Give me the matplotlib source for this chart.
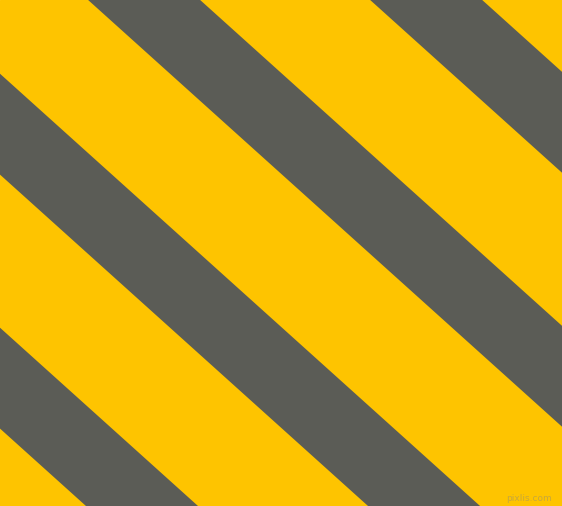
import numpy as np
import matplotlib.pyplot as plt

# image size in pixels
width, height = 562, 506

# stripe geometry
angle_deg = 42.0                      # stripes fall to the right at this angle
stripe_starts = [-476, -194, 88, 370]  # x where each grey stripe's left edge meets the top
stripe_width = 112                     # horizontal width of a grey stripe

bg_color = '#FEC400'
stripe_color = '#5B5C56'

fig = plt.figure(figsize=((width + 0.1) / 100, (height + 0.1) / 100), dpi=100)
ax = fig.add_axes([0, 0, 1, 1])
ax.set_xlim(0, width)
ax.set_ylim(height, 0)
ax.axis('off')
ax.add_patch(plt.Rectangle((0, 0), width, height, color=bg_color, zorder=0))

slope = np.tan(np.radians(angle_deg))
x = np.array([-width, 2 * width])
for x0 in stripe_starts:
    y_low = (x - x0) * slope
    y_high = (x - x0 - stripe_width) * slope
    ax.fill_between(x, y_high, y_low, color=stripe_color, linewidth=0, zorder=1)

ax.text(552, 498, 'pixlis.com', color='#C8A83A', fontsize=6.5,
        ha='right', va='center', zorder=2)

fig.savefig('out.png', dpi=100)
